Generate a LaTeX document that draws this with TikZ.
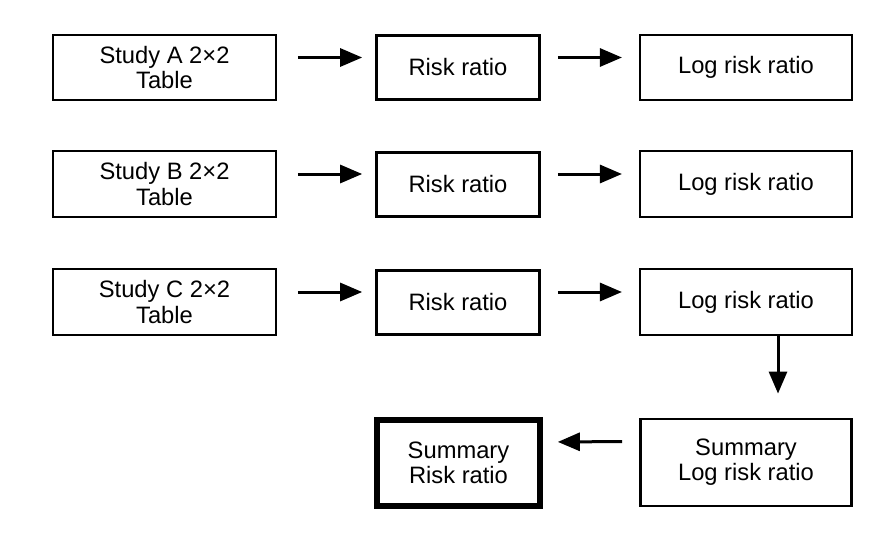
\documentclass[tikz,border=0pt]{standalone}
\usepackage{fontspec}
\setmainfont{Liberation Sans}
\usetikzlibrary{arrows.meta}

\begin{document}
\begin{tikzpicture}[x=0.75pt,y=-0.75pt,>={Triangle[length=16.5pt,width=13.5pt]},
  box/.style={draw,align=center,inner sep=0pt,font=\fontsize{17.8}{18.8}\selectfont},
  tbl/.style={box,minimum width=167pt,minimum height=49pt,line width=1.7pt},
  rr/.style={box,minimum width=122pt,minimum height=48pt,line width=2.25pt},
  lrr/.style={box,minimum width=159pt,minimum height=49pt,line width=1.6pt},
  flow/.style={->,line width=2.25pt}]
  \useasboundingbox (0,0) rectangle (885,535);
  \foreach \s/\y in {A/67.5,B/184,C/302} {
    \node[tbl] (t\s) at (164.5,\y) {Study \s\ 2×2\\Table};
    \node[rr] (r\s) at (458,\y) {Risk ratio};
    \node[lrr] (l\s) at (746,\y) {Log risk ratio};
    \draw[flow,shorten <=15.75pt,shorten >=9.75pt] ([yshift=7.5pt]t\s.east) -- ([yshift=7.5pt]r\s.west);
    \draw[flow,shorten <=12.75pt,shorten >=12.75pt] ([yshift=7.5pt]r\s.east) -- ([yshift=7.5pt]l\s.west);
  }
  % summary row
  \node[box,minimum width=122pt,minimum height=65pt,line width=4.5pt] (sr) at (458.5,463) {Summary\\Risk ratio};
  \node[box,minimum width=158.5pt,minimum height=65.5pt,line width=1.9pt] (sl) at (746,462.5) {Summary\\Log risk ratio};
  \draw[flow,shorten >=18pt] ([xshift=24pt]lC.south) -- ([xshift=24pt]sl.north);
  \draw[flow,shorten <=12.75pt,shorten >=11.25pt] ([yshift=15.75pt]sl.west) -- ([yshift=15.75pt]sr.east);
\end{tikzpicture}
\end{document}
